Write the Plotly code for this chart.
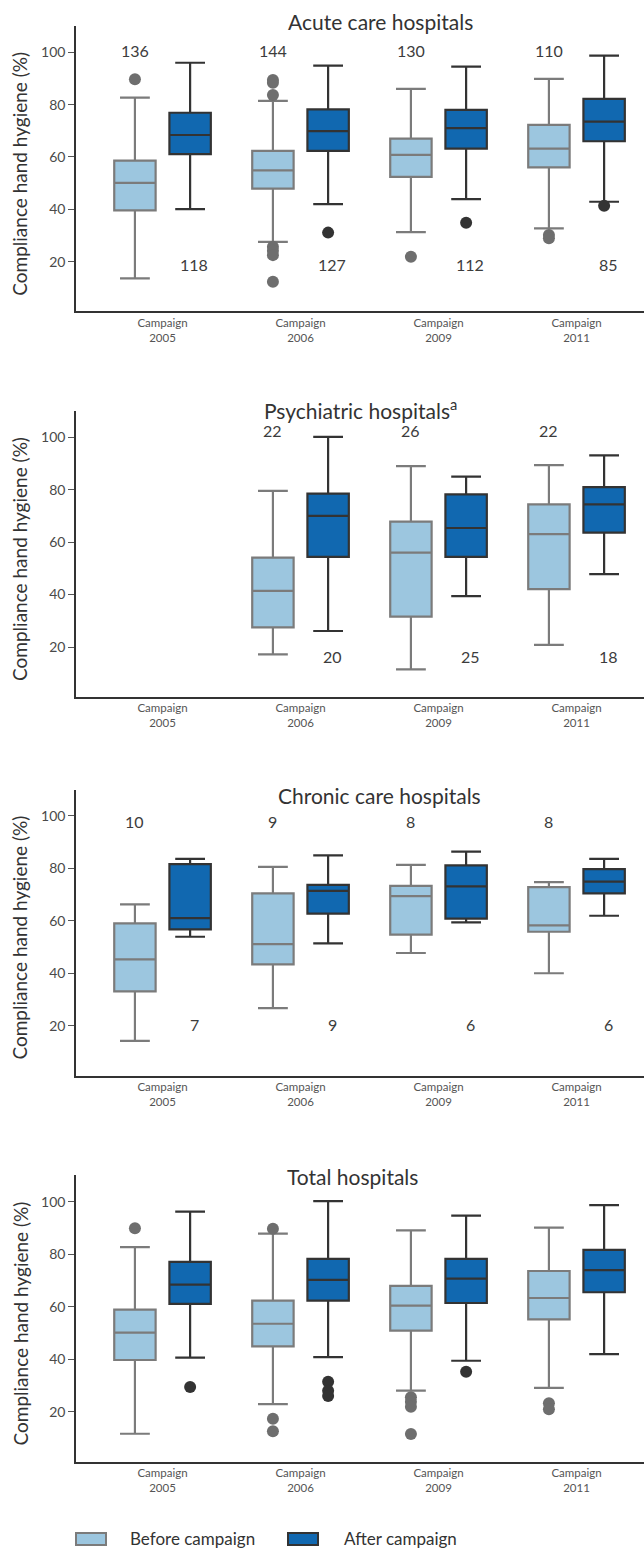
import plotly.graph_objects as go

W, H = 644, 1548
FONT = "Lato"

# ---------------- data ----------------
campaigns = ["2005", "2006", "2009", "2011"]
tick_labels = ["Campaign<br>2005", "Campaign<br>2006", "Campaign<br>2009", "Campaign<br>2011"]
panel_titles = ["Acute care hospitals", "Psychiatric hospitals<sup>a</sup>",
                "Chronic care hospitals", "Total hospitals"]

# Acute care hospitals
acute_before_low = [13.6, 27.6, 31.3, 32.7]
acute_before_q1 = [39.6, 47.9, 52.4, 56.0]
acute_before_med = [50.1, 54.9, 60.8, 63.2]
acute_before_q3 = [58.6, 62.3, 67.0, 72.3]
acute_before_high = [82.7, 81.4, 86.0, 89.8]
acute_before_out = [[89.7], [89.4, 88.4, 83.7, 25.7, 24.2, 22.5, 12.3], [21.9], [30.2, 28.9]]
acute_after_low = [40.1, 42.0, 43.9, 42.9]
acute_after_q1 = [61.1, 62.3, 63.2, 66.0]
acute_after_med = [68.4, 69.9, 71.0, 73.5]
acute_after_q3 = [76.9, 78.2, 78.0, 82.2]
acute_after_high = [96.0, 94.9, 94.5, 98.7]
acute_after_out = [[], [31.1], [34.9], [41.4]]
acute_n_before = [136, 144, 130, 110]
acute_n_after = [118, 127, 112, 85]

# Psychiatric hospitals (no data in 2005)
psych_before_low = [None, 17.2, 11.5, 20.8]
psych_before_q1 = [None, 27.5, 31.6, 42.1]
psych_before_med = [None, 41.4, 56.0, 63.1]
psych_before_q3 = [None, 54.1, 67.8, 74.4]
psych_before_high = [None, 79.6, 89.0, 89.4]
psych_before_out = [[], [], [], []]
psych_after_low = [None, 26.1, 39.4, 47.8]
psych_after_q1 = [None, 54.4, 54.4, 63.6]
psych_after_med = [None, 70.0, 65.4, 74.4]
psych_after_q3 = [None, 78.5, 78.2, 81.0]
psych_after_high = [None, 100.2, 85.0, 93.1]
psych_after_out = [[], [], [], []]
psych_n_before = [None, 22, 26, 22]
psych_n_after = [None, 20, 25, 18]

# Chronic care hospitals
chronic_before_low = [14.2, 26.7, 47.7, 40.0]
chronic_before_q1 = [33.1, 43.4, 54.7, 55.8]
chronic_before_med = [45.3, 51.1, 69.4, 58.2]
chronic_before_q3 = [59.0, 70.4, 73.3, 72.8]
chronic_before_high = [66.2, 80.5, 81.3, 74.7]
chronic_before_out = [[], [], [], []]
chronic_after_low = [53.9, 51.4, 59.4, 61.9]
chronic_after_q1 = [56.7, 62.7, 60.8, 70.4]
chronic_after_med = [61.0, 71.4, 73.1, 74.9]
chronic_after_q3 = [81.6, 73.7, 81.1, 79.7]
chronic_after_high = [83.6, 84.9, 86.3, 83.6]
chronic_after_out = [[], [], [], []]
chronic_n_before = [10, 9, 8, 8]
chronic_n_after = [7, 9, 6, 6]

# Total hospitals
total_before_low = [11.6, 22.9, 28.0, 29.1]
total_before_q1 = [39.7, 44.9, 50.9, 55.2]
total_before_med = [50.1, 53.5, 60.4, 63.3]
total_before_q3 = [58.9, 62.3, 67.9, 73.6]
total_before_high = [82.7, 87.8, 89.1, 90.1]
total_before_out = [[89.9], [89.7, 17.3, 12.6], [25.5, 23.8, 21.9, 11.5], [23.2, 20.9]]
total_after_low = [40.6, 40.8, 39.4, 41.9]
total_after_q1 = [61.1, 62.3, 61.4, 65.5]
total_after_med = [68.4, 70.2, 70.7, 73.9]
total_after_q3 = [77.1, 78.2, 78.2, 81.6]
total_after_high = [96.2, 100.2, 94.7, 98.7]
total_after_out = [[29.4], [31.4, 28.0, 26.0], [35.2], []]
total_n_before = [None, None, None, None]
total_n_after = [None, None, None, None]

panels = [
    dict(before=(acute_before_low, acute_before_q1, acute_before_med, acute_before_q3, acute_before_high),
         after=(acute_after_low, acute_after_q1, acute_after_med, acute_after_q3, acute_after_high),
         bout=acute_before_out, aout=acute_after_out, nb=acute_n_before, na=acute_n_after),
    dict(before=(psych_before_low, psych_before_q1, psych_before_med, psych_before_q3, psych_before_high),
         after=(psych_after_low, psych_after_q1, psych_after_med, psych_after_q3, psych_after_high),
         bout=psych_before_out, aout=psych_after_out, nb=psych_n_before, na=psych_n_after),
    dict(before=(chronic_before_low, chronic_before_q1, chronic_before_med, chronic_before_q3, chronic_before_high),
         after=(chronic_after_low, chronic_after_q1, chronic_after_med, chronic_after_q3, chronic_after_high),
         bout=chronic_before_out, aout=chronic_after_out, nb=chronic_n_before, na=chronic_n_after),
    dict(before=(total_before_low, total_before_q1, total_before_med, total_before_q3, total_before_high),
         after=(total_after_low, total_after_q1, total_after_med, total_after_q3, total_after_high),
         bout=total_before_out, aout=total_after_out, nb=total_n_before, na=total_n_after),
]

# ---------------- layout constants ----------------
panel_px = [(26.1, 311.4), (411.1, 696.8), (789.5, 1075.6), (1175.4, 1461.6)]
title_px = [(380, 21.5), (360, 409), (379, 795), (352, 1176.5)]
n_top_y = [100.5, 102.5, 98, None]
n_bot_y = [19, 16.5, 20.5, None]
LEFT = 76
XR = [-0.627, 3.489]
OFF = 0.2
BW = 0.30

BEFORE_FILL = "#9cc6df"
BEFORE_LINE = "#7b7b7b"
AFTER_FILL = "#1168b0"
AFTER_LINE = "#333333"
TXT = "#3c3c3c"


def py(p):
    return 1 - p / H


def px_x(p):
    return (p - LEFT) / (W - LEFT)


fig = go.Figure()
annotations = []

for i, pan in enumerate(panels):
    xa = "x" if i == 0 else f"x{i+1}"
    ya = "y" if i == 0 else f"y{i+1}"
    for key, off, fill, line, outs, ocol in [
        ("before", -OFF, BEFORE_FILL, BEFORE_LINE, pan["bout"], "#6e6e6e"),
        ("after", OFF, AFTER_FILL, AFTER_LINE, pan["aout"], "#333333"),
    ]:
        low, q1, med, q3, high = pan[key]
        idx = [g for g in range(len(campaigns)) if med[g] is not None]
        fig.add_trace(go.Box(
            x=[g + off for g in idx],
            lowerfence=[low[g] for g in idx],
            q1=[q1[g] for g in idx],
            median=[med[g] for g in idx],
            q3=[q3[g] for g in idx],
            upperfence=[high[g] for g in idx],
            width=BW, whiskerwidth=0.72,
            fillcolor=fill, line=dict(color=line, width=2.2),
            boxpoints=False, showlegend=False, hoverinfo="skip",
            xaxis=xa, yaxis=ya,
        ))
        ox, oy = [], []
        for g in range(len(campaigns)):
            for v in outs[g]:
                ox.append(g + off)
                oy.append(v)
        if ox:
            fig.add_trace(go.Scatter(
                x=ox, y=oy, mode="markers",
                marker=dict(color=ocol, size=12, line=dict(width=0)),
                showlegend=False, hoverinfo="skip", xaxis=xa, yaxis=ya,
            ))
    for g in range(len(campaigns)):
        if pan["nb"][g] is not None:
            annotations.append(dict(x=g - OFF, y=n_top_y[i], xref=xa, yref=ya,
                                    text=str(pan["nb"][g]), showarrow=False,
                                    font=dict(size=16, color=TXT, family=FONT)))
        if pan["na"][g] is not None:
            annotations.append(dict(x=g + OFF + 0.03, y=n_bot_y[i], xref=xa, yref=ya,
                                    text=str(pan["na"][g]), showarrow=False,
                                    font=dict(size=16, color=TXT, family=FONT)))
    top, bot = panel_px[i]
    tx, ty = title_px[i]
    annotations.append(dict(x=px_x(tx), y=py(ty), xref="paper", yref="paper",
                            text=panel_titles[i], showarrow=False, xanchor="center", yanchor="middle",
                            font=dict(size=21, color="#333333", family=FONT)))
    annotations.append(dict(x=px_x(20), y=py((top + bot) / 2 + 5), xref="paper", yref="paper",
                            text="Compliance hand hygiene (%)", showarrow=False, textangle=-90,
                            xanchor="center", yanchor="middle",
                            font=dict(size=19, color="#333333", family=FONT)))

    fig.layout[f"xaxis{'' if i == 0 else i+1}"] = dict(
        domain=[0, 1], anchor=ya, range=XR, showline=True, linecolor="#333333", linewidth=1.5,
        showgrid=False, zeroline=False, ticks="", tickvals=list(range(len(campaigns))),
        ticktext=tick_labels, tickfont=dict(size=11.5, color="#555555", family=FONT),
    )
    fig.layout[f"yaxis{'' if i == 0 else i+1}"] = dict(
        domain=[py(bot), py(top)], anchor=xa, range=[1, 110], showline=True, linecolor="#333333",
        linewidth=1.5, showgrid=False, zeroline=False, ticks="outside", ticklen=6,
        tickcolor="#555555", tickwidth=1, tickvals=[20, 40, 60, 80, 100],
        tickfont=dict(size=14, color="#4a4a4a", family=FONT),
    )

shapes = [
    dict(type="rect", xref="paper", yref="paper", x0=px_x(76), x1=px_x(106), y0=py(1545), y1=py(1533),
         fillcolor=BEFORE_FILL, line=dict(color=BEFORE_LINE, width=2)),
    dict(type="rect", xref="paper", yref="paper", x0=px_x(288), x1=px_x(318), y0=py(1545), y1=py(1533),
         fillcolor=AFTER_FILL, line=dict(color=AFTER_LINE, width=2)),
]
annotations.append(dict(x=px_x(128), y=py(1538), xref="paper", yref="paper", text="Before campaign",
                        showarrow=False, xanchor="left", yanchor="middle",
                        font=dict(size=17, color="#333333", family=FONT)))
annotations.append(dict(x=px_x(342), y=py(1538), xref="paper", yref="paper", text="After campaign",
                        showarrow=False, xanchor="left", yanchor="middle",
                        font=dict(size=17, color="#333333", family=FONT)))

fig.update_layout(
    width=W, height=H, margin=dict(l=LEFT, r=0, t=0, b=0),
    paper_bgcolor="white", plot_bgcolor="white", boxmode="overlay",
    showlegend=False, annotations=annotations, shapes=shapes,
    font=dict(family=FONT, color="#333333"),
)

fig.write_html("out.html", config={"displayModeBar": False},
               post_script="document.body.style.margin='0';document.body.style.overflow='hidden';")
